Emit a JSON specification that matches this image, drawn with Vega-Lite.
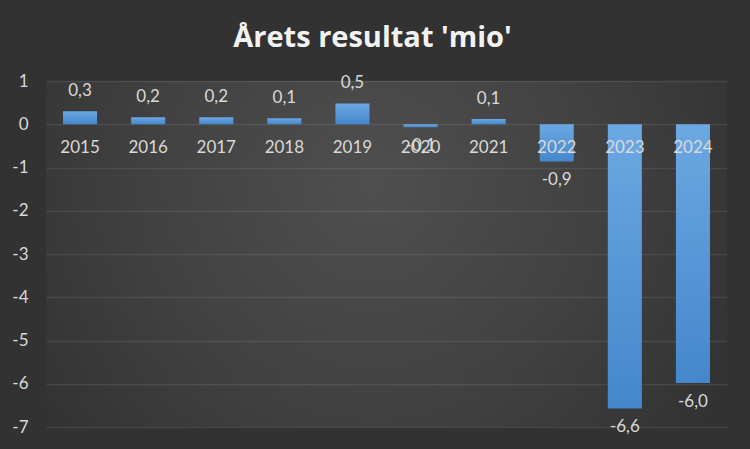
{
  "$schema": "https://vega.github.io/schema/vega-lite/v6.json",
  "width": 681,
  "height": 346,
  "autosize": {"type": "none"},
  "padding": {"left": 46, "top": 81, "right": 23, "bottom": 22},
  "background": "#323232",
  "title": {
    "text": "Årets resultat 'mio'",
    "font": "Open Sans",
    "fontWeight": "bold",
    "fontSize": 29,
    "color": "#f2f2f2",
    "anchor": "middle",
    "frame": "group",
    "dx": -14,
    "offset": 19
  },
  "config": {
    "view": {
      "stroke": null,
      "fill": {
        "gradient": "radial",
        "x1": 0.48, "y1": 0.4, "r1": 0,
        "x2": 0.48, "y2": 0.4, "r2": 0.6,
        "stops": [
          {"offset": 0, "color": "#4f4f4f"},
          {"offset": 0.55, "color": "#414141"},
          {"offset": 1, "color": "#323232"}
        ]
      }
    },
    "locale": {"number": {"decimal": ",", "thousands": " ", "grouping": [3], "currency": ["", " kr"], "minus": "-"}},
    "text": {"font": "Lato", "fontSize": 17, "fill": "#d9d9d9"}
  },
  "data": {
    "values": [
      {"year": "2015", "value": 0.30},
      {"year": "2016", "value": 0.16},
      {"year": "2017", "value": 0.16},
      {"year": "2018", "value": 0.14},
      {"year": "2019", "value": 0.48},
      {"year": "2020", "value": -0.07},
      {"year": "2021", "value": 0.12},
      {"year": "2022", "value": -0.86},
      {"year": "2023", "value": -6.57},
      {"year": "2024", "value": -5.98}
    ]
  },
  "encoding": {
    "x": {
      "field": "year",
      "type": "nominal",
      "sort": null,
      "scale": {"paddingInner": 0.5, "paddingOuter": 0.25},
      "axis": null
    }
  },
  "layer": [
    {
      "mark": {
        "type": "bar",
        "fill": {
          "gradient": "linear", "x1": 0, "y1": 0, "x2": 0, "y2": 1,
          "stops": [{"offset": 0, "color": "#6ca8e2"}, {"offset": 1, "color": "#4487cc"}]
        }
      },
      "encoding": {
        "y": {
          "field": "value",
          "type": "quantitative",
          "scale": {"domain": [-7, 1], "nice": false, "zero": true},
          "axis": {
            "values": [-7, -6, -5, -4, -3, -2, -1, 0, 1],
            "format": "d",
            "title": null,
            "domain": false,
            "ticks": false,
            "labelFont": "Lato",
            "labelFontSize": 17,
            "labelColor": "#d9d9d9",
            "labelPadding": 18,
            "gridColor": "#ffffff",
            "gridOpacity": 0.09,
            "gridWidth": 1.5
          }
        }
      }
    },
    {
      "mark": {"type": "rule", "stroke": "#a6a6a6", "strokeWidth": 2},
      "encoding": {"y": {"datum": 0}}
    },
    {
      "mark": {"type": "text", "baseline": "middle", "dy": 24},
      "encoding": {
        "y": {"datum": 0},
        "text": {"field": "year"}
      }
    },
    {
      "transform": [{"filter": "datum.value >= 0"}],
      "mark": {"type": "text", "baseline": "middle", "dy": -20},
      "encoding": {
        "y": {"field": "value", "type": "quantitative"},
        "text": {"field": "value", "type": "quantitative", "format": ".1f"}
      }
    },
    {
      "transform": [{"filter": "datum.value < 0"}],
      "mark": {"type": "text", "baseline": "middle", "dy": 19},
      "encoding": {
        "y": {"field": "value", "type": "quantitative"},
        "text": {"field": "value", "type": "quantitative", "format": ".1f"}
      }
    }
  ]
}
